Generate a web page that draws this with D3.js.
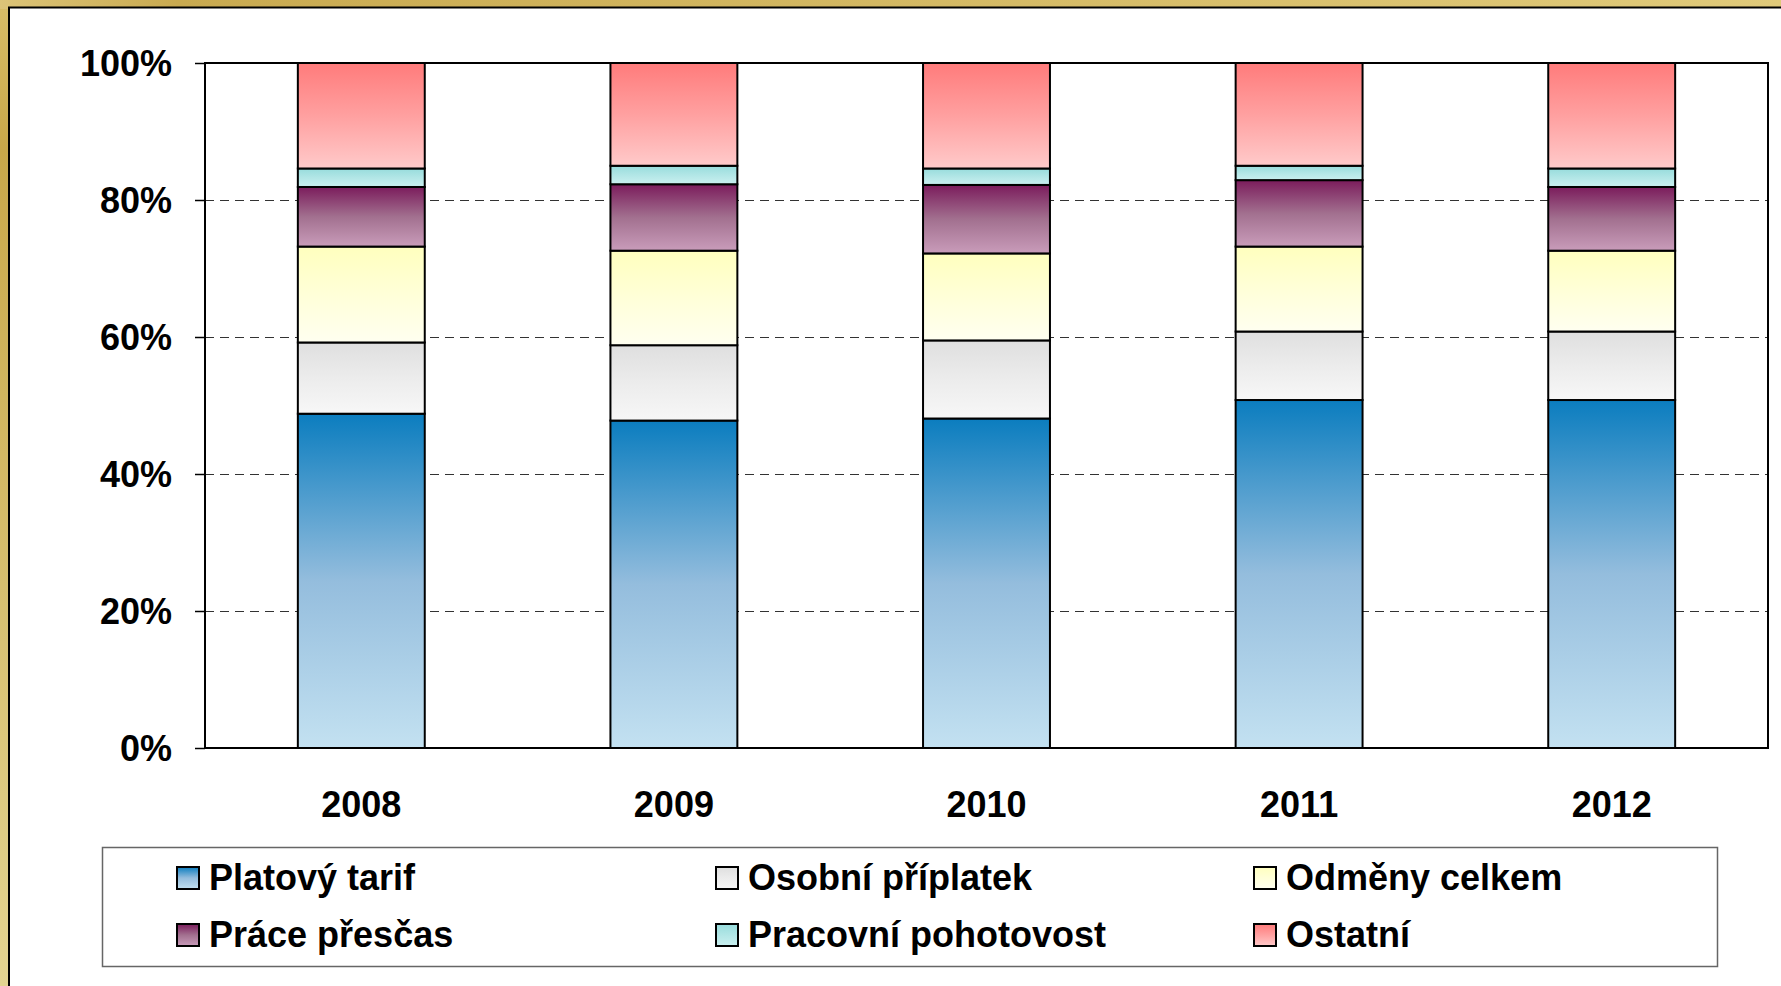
<!DOCTYPE html>
<meta charset="utf-8">
<style>
    body {
        margin: 0;
        font-family: "Liberation Sans", Arial, sans-serif;
    }

    .axis path {
        display: none;
    }

    .axis text {
        font-size: 36px;
        font-weight: bold;
        fill: #000;
    }

    .grid line {
        stroke: #333;
        stroke-dasharray: 9, 6;
        stroke-width: 1;
        shape-rendering: crispEdges;
    }
</style>
<body>
    <script src="https://cdn.jsdelivr.net/npm/d3@7"></script>
    <script>

        var years = ["2008", "2009", "2010", "2011", "2012"];
        var seriesNames = ["Platový tarif", "Osobní příplatek", "Odměny celkem", "Práce přesčas", "Pracovní pohotovost", "Ostatní"];

        // shares in % per year
        var platovyTarif = [48.8, 47.8, 48.1, 50.8, 50.8];
        var osobniPriplatek = [10.4, 11.0, 11.4, 10.0, 10.0];
        var odmenyCelkem = [14.0, 13.8, 12.7, 12.4, 11.8];
        var pracePrescas = [8.7, 9.7, 10.0, 9.7, 9.3];
        var pracovniPohotovost = [2.7, 2.7, 2.4, 2.1, 2.7];
        var ostatni = [15.4, 15.0, 15.4, 15.0, 15.4];

        var yTicks = [0, 20, 40, 60, 80, 100];

        // gradient top / middle / bottom colours for each series
        var gradColors = [
            ["#0b7dbf", "#94bddd", "#c3e1f1"],
            ["#dfdfdf", "#ececec", "#f7f7f7"],
            ["#ffffbe", "#ffffd8", "#fffff0"],
            ["#7b1c5c", "#a2708f", "#c99cba"],
            ["#97dcdc", "#b2e6e6", "#caf0f0"],
            ["#ff7b7b", "#ffa0a0", "#ffcaca"]
        ];

        var allSeries = [platovyTarif, osobniPriplatek, odmenyCelkem, pracePrescas, pracovniPohotovost, ostatni];

        var data = years.map(function (yr, i) {
            var row = { year: yr };
            seriesNames.forEach(function (s, j) { row[s] = allSeries[j][i]; });
            return row;
        });

        var W = 1781, H = 986;
        var plot = { left: 205, top: 63, right: 1768, bottom: 748 };

        var svg = d3.select("body").append("svg")
            .attr("width", W)
            .attr("height", H);

        var defs = svg.append("defs");

        var goldL = defs.append("linearGradient").attr("id", "goldL")
            .attr("x1", 0).attr("y1", 0).attr("x2", 0).attr("y2", 1);
        goldL.append("stop").attr("offset", "0%").attr("stop-color", "#d8bd68");
        goldL.append("stop").attr("offset", "15%").attr("stop-color", "#c8a84a");
        goldL.append("stop").attr("offset", "100%").attr("stop-color", "#e3d491");

        var goldT = defs.append("linearGradient").attr("id", "goldT")
            .attr("x1", 0).attr("y1", 0).attr("x2", 1).attr("y2", 0);
        goldT.append("stop").attr("offset", "0%").attr("stop-color", "#dcc478");
        goldT.append("stop").attr("offset", "10%").attr("stop-color", "#c9aa50");
        goldT.append("stop").attr("offset", "100%").attr("stop-color", "#e0ca7a");

        gradColors.forEach(function (c, j) {
            var g = defs.append("linearGradient").attr("id", "grad" + j)
                .attr("x1", 0).attr("y1", 0).attr("x2", 0).attr("y2", 1);
            g.append("stop").attr("offset", "0%").attr("stop-color", c[0]);
            g.append("stop").attr("offset", "50%").attr("stop-color", c[1]);
            g.append("stop").attr("offset", "100%").attr("stop-color", c[2]);
        });

        // gold frame + white panel
        svg.append("rect").attr("width", W).attr("height", H).attr("fill", "url(#goldL)");
        svg.append("rect").attr("width", W).attr("height", 9).attr("fill", "url(#goldT)");
        svg.append("rect")
            .attr("x", 9).attr("y", 7.5)
            .attr("width", W + 20).attr("height", H + 20)
            .attr("fill", "#fff")
            .attr("stroke", "#000")
            .attr("stroke-width", 2);

        var x = d3.scaleBand()
            .domain(years)
            .range([plot.left, plot.right])
            .paddingInner(0.594)
            .paddingOuter(0.297);

        var y = d3.scaleLinear()
            .domain([0, 100])
            .range([plot.bottom, plot.top]);

        // gridlines
        svg.append("g")
            .attr("class", "grid")
            .selectAll("line")
            .data(yTicks.filter(function (d) { return d > 0 && d < 100; }))
            .enter().append("line")
            .attr("x1", plot.left).attr("x2", plot.right)
            .attr("y1", function (d) { return y(d); })
            .attr("y2", function (d) { return y(d); });

        var stack = d3.stack().keys(seriesNames);
        var layers = stack(data);

        svg.selectAll(".layer")
            .data(layers)
            .enter().append("g")
            .attr("class", "layer")
            .attr("fill", function (d, j) { return "url(#grad" + j + ")"; })
            .selectAll("rect")
            .data(function (d) { return d; })
            .enter().append("rect")
            .attr("x", function (d) { return x(d.data.year); })
            .attr("width", x.bandwidth())
            .attr("y", function (d) { return y(d[1]); })
            .attr("height", function (d) { return y(d[0]) - y(d[1]); })
            .attr("stroke", "#000")
            .attr("stroke-width", 2);

        // plot frame
        svg.append("rect")
            .attr("x", plot.left).attr("y", plot.top)
            .attr("width", plot.right - plot.left)
            .attr("height", plot.bottom - plot.top)
            .attr("fill", "none")
            .attr("stroke", "#000")
            .attr("stroke-width", 2);

        // y axis
        var yAxis = svg.append("g")
            .attr("class", "axis y")
            .attr("transform", "translate(" + plot.left + ",0)")
            .call(d3.axisLeft(y).tickValues(yTicks).tickSize(10).tickPadding(23)
                .tickFormat(function (d) { return d + "%"; }));
        yAxis.selectAll("line").attr("stroke", "#000").attr("stroke-width", 1.5);
        yAxis.selectAll("text").attr("dy", "0.36em");

        // x axis
        var xAxis = svg.append("g")
            .attr("class", "axis x")
            .attr("transform", "translate(0," + plot.bottom + ")")
            .call(d3.axisBottom(x).tickSize(0));
        xAxis.selectAll("text").attr("y", 69).attr("dy", null);

        // legend
        var legend = svg.append("g");
        legend.append("rect")
            .attr("x", 102.5).attr("y", 847.5)
            .attr("width", 1615).attr("height", 119)
            .attr("fill", "#fff")
            .attr("stroke", "#666")
            .attr("stroke-width", 1.5);

        var colX = [177, 716, 1254];
        var rowY = [867, 924];

        var item = legend.selectAll(".item")
            .data(seriesNames)
            .enter().append("g")
            .attr("class", "item")
            .attr("transform", function (d, j) {
                return "translate(" + colX[j % 3] + "," + rowY[Math.floor(j / 3)] + ")";
            });

        item.append("rect")
            .attr("width", 22).attr("height", 22)
            .attr("fill", function (d, j) { return "url(#grad" + j + ")"; })
            .attr("stroke", "#000")
            .attr("stroke-width", 2);

        item.append("text")
            .attr("x", 32)
            .attr("y", 23)
            .attr("font-size", 36)
            .attr("font-weight", "bold")
            .text(function (d) { return d; });

    </script>
